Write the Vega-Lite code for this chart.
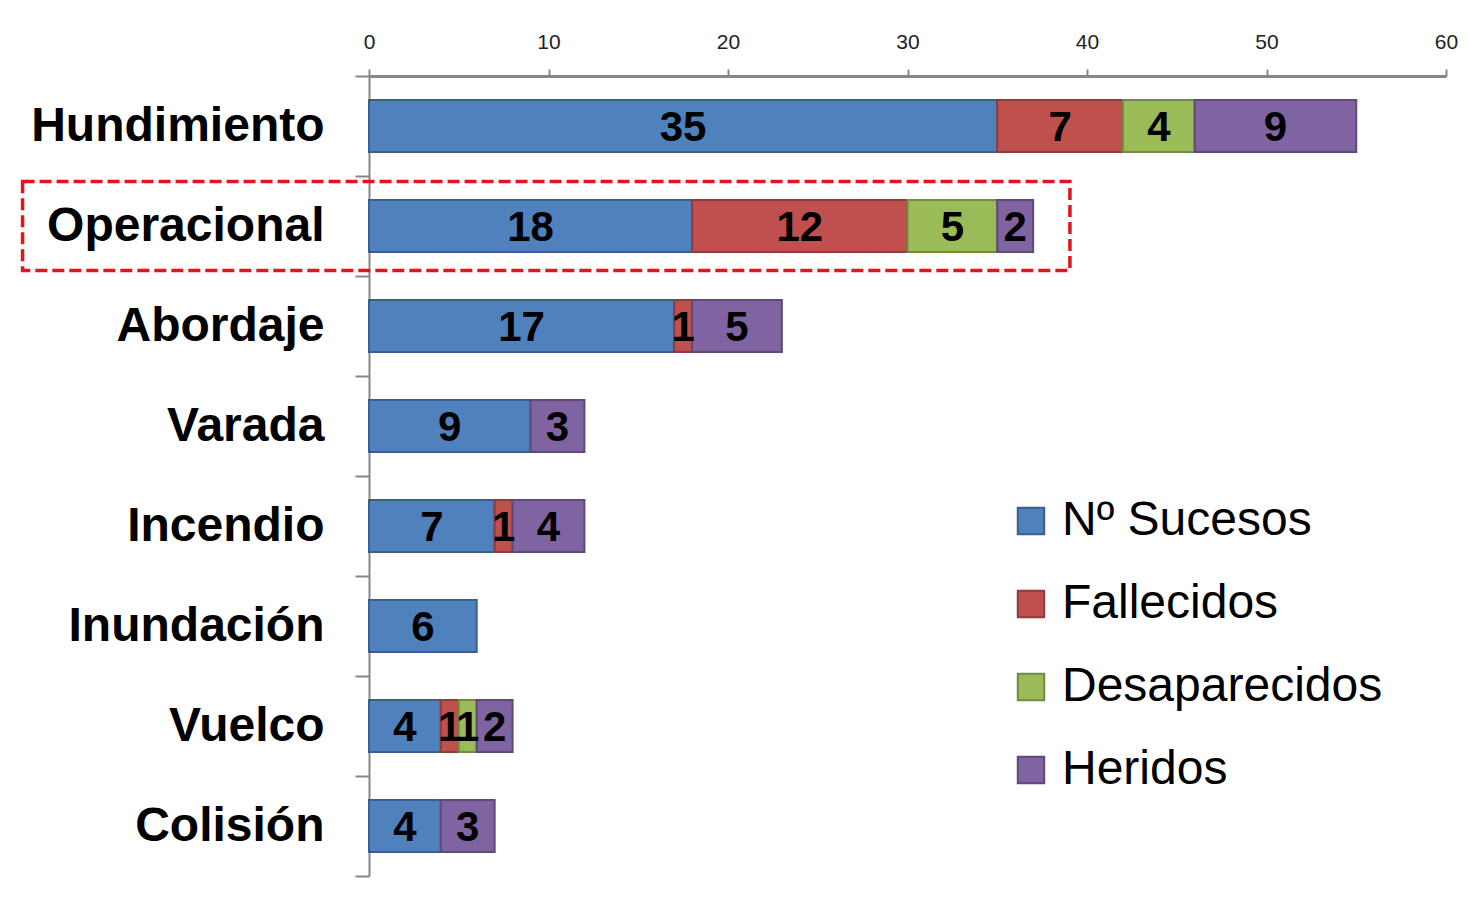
{
  "$schema": "https://vega.github.io/schema/vega-lite/v6.json",
  "autosize": "none",
  "width": 1077,
  "height": 800,
  "padding": {"left": 369, "top": 76, "right": 22, "bottom": 24},
  "background": "white",
  "config": {"view": {"stroke": null}, "font": "Liberation Sans"},
  "datasets": {
    "sucesos": [
      {"tipo": "Hundimiento", "serie": "Nº Sucesos", "k": 1, "valor": 35},
      {"tipo": "Hundimiento", "serie": "Fallecidos", "k": 2, "valor": 7},
      {"tipo": "Hundimiento", "serie": "Desaparecidos", "k": 3, "valor": 4},
      {"tipo": "Hundimiento", "serie": "Heridos", "k": 4, "valor": 9},
      {"tipo": "Operacional", "serie": "Nº Sucesos", "k": 1, "valor": 18},
      {"tipo": "Operacional", "serie": "Fallecidos", "k": 2, "valor": 12},
      {"tipo": "Operacional", "serie": "Desaparecidos", "k": 3, "valor": 5},
      {"tipo": "Operacional", "serie": "Heridos", "k": 4, "valor": 2},
      {"tipo": "Abordaje", "serie": "Nº Sucesos", "k": 1, "valor": 17},
      {"tipo": "Abordaje", "serie": "Fallecidos", "k": 2, "valor": 1},
      {"tipo": "Abordaje", "serie": "Heridos", "k": 4, "valor": 5},
      {"tipo": "Varada", "serie": "Nº Sucesos", "k": 1, "valor": 9},
      {"tipo": "Varada", "serie": "Heridos", "k": 4, "valor": 3},
      {"tipo": "Incendio", "serie": "Nº Sucesos", "k": 1, "valor": 7},
      {"tipo": "Incendio", "serie": "Fallecidos", "k": 2, "valor": 1},
      {"tipo": "Incendio", "serie": "Heridos", "k": 4, "valor": 4},
      {"tipo": "Inundación", "serie": "Nº Sucesos", "k": 1, "valor": 6},
      {"tipo": "Vuelco", "serie": "Nº Sucesos", "k": 1, "valor": 4},
      {"tipo": "Vuelco", "serie": "Fallecidos", "k": 2, "valor": 1},
      {"tipo": "Vuelco", "serie": "Desaparecidos", "k": 3, "valor": 1},
      {"tipo": "Vuelco", "serie": "Heridos", "k": 4, "valor": 2},
      {"tipo": "Colisión", "serie": "Nº Sucesos", "k": 1, "valor": 4},
      {"tipo": "Colisión", "serie": "Heridos", "k": 4, "valor": 3}
    ],
    "marco": [
      {"tipo": "Operacional", "desde": -19.3, "hasta": 39.05}
    ]
  },
  "encoding": {
    "y": {
      "field": "tipo",
      "type": "nominal",
      "scale": {
        "domain": ["Hundimiento", "Operacional", "Abordaje", "Varada", "Incendio", "Inundación", "Vuelco", "Colisión"],
        "paddingInner": 0,
        "paddingOuter": 0
      },
      "axis": {
        "title": null,
        "orient": "left",
        "domainColor": "#868686",
        "domainWidth": 2,
        "tickColor": "#868686",
        "tickWidth": 2,
        "tickSize": 14,
        "tickBand": "extent",
        "labelFontSize": 48,
        "labelFont": "Liberation Sans",
        "labelFontWeight": "bold",
        "labelColor": "#000000",
        "labelPadding": 31,
        "labelLimit": 400
      }
    }
  },
  "layer": [
    {
      "data": {"name": "sucesos"},
      "mark": {"type": "bar", "strokeWidth": 2, "height": {"band": 0.52}},
      "encoding": {
        "x": {
          "field": "valor",
          "type": "quantitative",
          "stack": "zero",
          "scale": {"domain": [0, 60], "nice": false},
          "axis": {
            "orient": "top",
            "title": null,
            "values": [0, 10, 20, 30, 40, 50, 60],
            "grid": false,
            "domainColor": "#868686",
            "domainWidth": 3,
            "tickColor": "#868686",
            "tickWidth": 2,
            "tickSize": 7,
            "labelFlush": false,
            "labelFontSize": 21,
            "labelFont": "Liberation Sans",
            "labelColor": "#222222",
            "labelPadding": 17
          }
        },
        "color": {
          "field": "serie",
          "type": "nominal",
          "scale": {
            "domain": ["Nº Sucesos", "Fallecidos", "Desaparecidos", "Heridos"],
            "range": ["#4F81BD", "#C0504D", "#9BBB59", "#8064A2"]
          },
          "legend": {
            "title": null,
            "orient": "none",
            "legendX": 638,
            "legendY": 421,
            "symbolType": "square",
            "symbolSize": 700,
            "symbolStrokeWidth": 2,
            "symbolStrokeColor": "#555555",
            "labelFontSize": 48,
            "labelFont": "Liberation Sans",
            "labelColor": "#000000",
            "labelOffset": 7,
            "rowPadding": 35,
            "labelLimit": 500
          }
        },
        "stroke": {
          "field": "serie",
          "type": "nominal",
          "scale": {
            "domain": ["Nº Sucesos", "Fallecidos", "Desaparecidos", "Heridos"],
            "range": ["#3A5F8C", "#8E3B39", "#728A42", "#5E4A78"]
          },
          "legend": null
        },
        "order": {"field": "k", "type": "quantitative"}
      }
    },
    {
      "data": {"name": "sucesos"},
      "mark": {"type": "text", "fontSize": 42, "fontWeight": "bold", "font": "Liberation Sans", "color": "#000000", "baseline": "middle", "dy": 2},
      "encoding": {
        "x": {"field": "valor", "type": "quantitative", "stack": "zero", "bandPosition": 0.5},
        "text": {"field": "valor", "type": "quantitative"},
        "order": {"field": "k", "type": "quantitative"}
      }
    },
    {
      "data": {"name": "marco"},
      "mark": {"type": "rect", "fill": null, "filled": false, "stroke": "#E3141B", "strokeWidth": 3.5, "strokeDash": [12, 5], "clip": false, "height": {"band": 0.89}},
      "encoding": {
        "x": {"field": "desde", "type": "quantitative"},
        "x2": {"field": "hasta"}
      }
    }
  ]
}
